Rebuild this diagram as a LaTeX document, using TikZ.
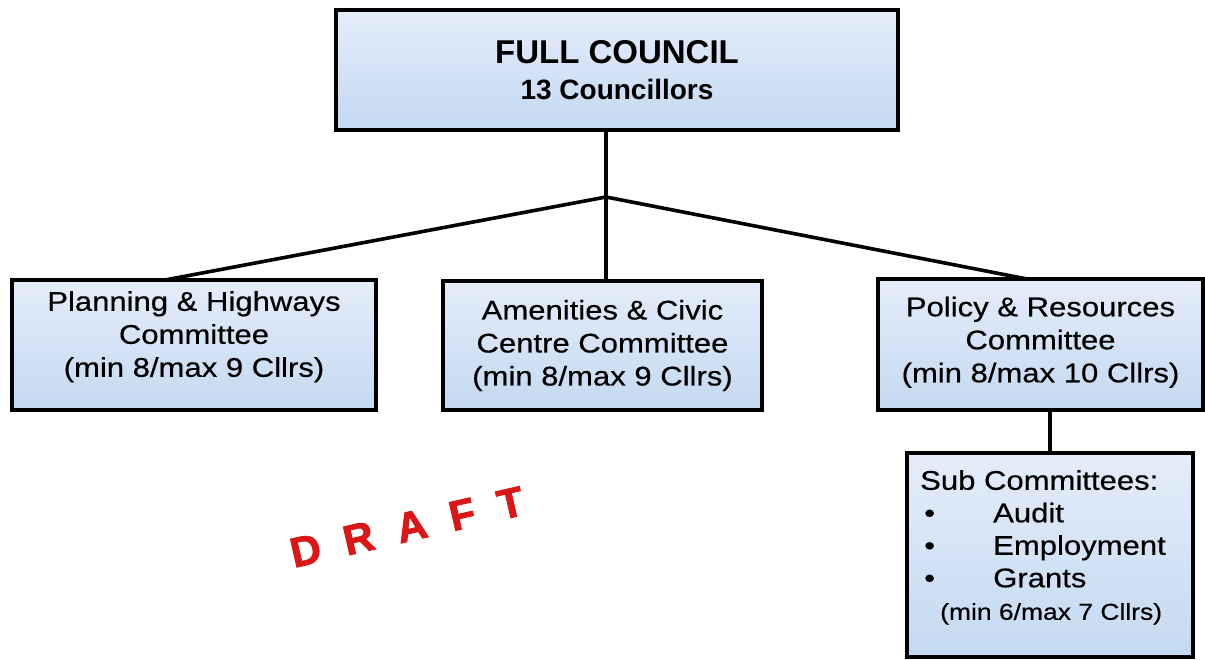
\documentclass[tikz,border=0pt]{standalone}
\usepackage{fontspec}
\setmainfont{Liberation Sans}
\newfontfamily\cfont[FakeStretch=1.15,FakeBold=0.4]{Liberation Sans}
\definecolor{boxtop}{RGB}{228,237,250}
\definecolor{boxbot}{RGB}{196,217,241}
\definecolor{draftred}{RGB}{218,22,22}
\begin{document}
\begin{tikzpicture}[x=1pt,y=-1pt,
  box/.style={rectangle, draw=black, line width=4pt, top color=boxtop, bottom color=boxbot, inner sep=0pt},
  ctext/.style={font=\cfont\fontsize{27}{33}\selectfont, align=center},
  link/.style={line width=3.6pt, draw=black}]
\useasboundingbox[fill=white] (0,0) rectangle (1205,659);

\node[box, minimum width=562pt, minimum height=120pt, align=center, font=\bfseries\fontsize{33}{36}\selectfont] (fc) at (617,70)
  {FULL COUNCIL\\\fontsize{28}{36}\selectfont 13 Councillors};

\node[box, ctext, minimum width=364pt, minimum height=130pt] (pl) at (194,345)
  {Planning \& Highways\\Committee\\(min 8/max 9 Cllrs)\rule[-22pt]{0pt}{1pt}};
\node[box, ctext, minimum width=319pt, minimum height=129pt] (am) at (602.5,345.5)
  {Amenities \& Civic\\Centre Committee\\(min 8/max 9 Cllrs)};
\node[box, ctext, minimum width=325pt, minimum height=131pt] (po) at (1040.5,344.5)
  {Policy \& Resources\\Committee\\(min 8/max 10 Cllrs)\rule[-10pt]{0pt}{1pt}};

\node[box, minimum width=286pt, minimum height=204pt] (sub) at (1050,555) {};
\node[anchor=north west, align=left, inner sep=0pt, font=\cfont\fontsize{27}{32.5}\selectfont] (subtext) at (920,470)
  {Sub Committees:\\
   \makebox[73pt][l]{\hspace{4pt}\textbullet}Audit\\
   \makebox[73pt][l]{\hspace{4pt}\textbullet}Employment\\
   \makebox[73pt][l]{\hspace{4pt}\textbullet}Grants\\
   \hspace*{20pt}{\fontsize{23}{32}\selectfont(min 6/max 7 Cllrs)}};

\coordinate (j) at (606,197);
\coordinate (plt) at (165,280);
\coordinate (pot) at (1027,279);
\draw[link] (j |- fc.south) -- (j) -- (j |- am.north);
\draw[link] (j) -- (plt);
\draw[link] (j) -- (pot);
\draw[link] (sub.north |- po.south) -- (sub.north);

\node[rotate=13, text=draftred, inner sep=0pt, font=\bfseries\addfontfeatures{FakeBold=2}\fontsize{42}{42}\selectfont] (draft) at (407,527)
  {D\hspace{24pt}R\hspace{24pt}A\hspace{24pt}F\hspace{24pt}T};
\end{tikzpicture}
\end{document}
